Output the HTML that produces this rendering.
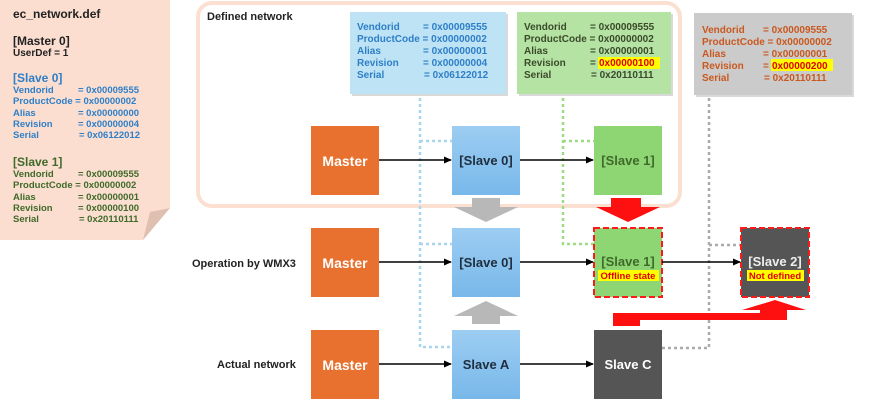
<!DOCTYPE html>
<html><head><meta charset="utf-8"><style>
body{margin:0;width:874px;height:404px;background:#fff;overflow:hidden;font-family:"Liberation Sans",sans-serif}
svg text{font-family:"Liberation Sans",sans-serif;font-weight:bold}
</style></head><body>
<svg width="874" height="404" viewBox="0 0 874 404" xmlns="http://www.w3.org/2000/svg">
<defs>
<marker id="ar" markerWidth="8" markerHeight="8" refX="7" refY="4" orient="auto" markerUnits="userSpaceOnUse"><path d="M0,0.5 L8,4 L0,7.5 z" fill="#000"/></marker>
<linearGradient id="bl" x1="0" y1="0" x2="0" y2="1"><stop offset="0" stop-color="#9dcdf2"/><stop offset="1" stop-color="#78b8ea"/></linearGradient>
</defs>
<path d="M0,0 H170 V208 L143,240 H0 Z" fill="#fbded0"/>
<path d="M143,240 L150,212 L170,208 Z" fill="#dfc0b0"/>
<text x="13" y="18" font-size="12" fill="#222">ec_network.def</text>
<g font-size="11">
<text x="13" y="45" fill="#222" font-size="12">[Master 0]</text>
<text x="13" y="56" fill="#222" font-size="10">UserDef = 1</text>
<text x="13" y="82" fill="#2e7fc8" font-size="12">[Slave 0]</text>
<g font-size="9.5" fill="#2e7fc8">
<text x="13" y="93">Vendorid</text><text x="78" y="93">= 0x00009555</text>
<text x="13" y="104">ProductCode = 0x00000002</text>
<text x="13" y="116">Alias</text><text x="78" y="116">= 0x00000000</text>
<text x="13" y="127">Revision</text><text x="78" y="127">= 0x00000004</text>
<text x="13" y="138">Serial</text><text x="79" y="138">= 0x06122012</text>
</g>
<text x="13" y="166" fill="#3f6a2a" font-size="12">[Slave 1]</text>
<g font-size="9.5" fill="#3f6a2a">
<text x="13" y="177">Vendorid</text><text x="78" y="177">= 0x00009555</text>
<text x="13" y="188">ProductCode = 0x00000002</text>
<text x="13" y="200">Alias</text><text x="78" y="200">= 0x00000001</text>
<text x="13" y="211">Revision</text><text x="78" y="211">= 0x00000100</text>
<text x="13" y="222">Serial</text><text x="79" y="222">= 0x20110111</text>
</g></g>
<rect x="198" y="3" width="482" height="203" rx="14" fill="none" stroke="#fbe0d2" stroke-width="4"/>
<text x="207" y="20" font-size="11" fill="#222">Defined network</text>
<rect x="352" y="14" width="156" height="82" fill="#000" opacity="0.15"/>
<rect x="350" y="12" width="156" height="82" fill="#bde3f5"/>
<g font-size="10" fill="#2e7fc8">
<text x="357" y="30">Vendorid</text><text x="423" y="30">= 0x00009555</text>
<text x="357" y="42">ProductCode = 0x00000002</text>
<text x="357" y="54">Alias</text><text x="423" y="54">= 0x00000001</text>
<text x="357" y="66">Revision</text><text x="423" y="66">= 0x00000004</text>
<text x="357" y="78">Serial</text><text x="424" y="78">= 0x06122012</text>
</g>
<rect x="519" y="14" width="154" height="82" fill="#000" opacity="0.15"/>
<rect x="517" y="12" width="154" height="82" fill="#b5e3a4"/>
<rect x="598" y="57" width="62" height="12" fill="#ffff00"/>
<g font-size="10" fill="#3a4a2a">
<text x="524" y="30">Vendorid</text><text x="590" y="30">= 0x00009555</text>
<text x="524" y="42">ProductCode = 0x00000002</text>
<text x="524" y="54">Alias</text><text x="590" y="54">= 0x00000001</text>
<text x="524" y="66">Revision</text><text x="590" y="66">=</text><text x="599" y="66" fill="#e00000">0x00000100</text>
<text x="524" y="78">Serial</text><text x="591" y="78">= 0x20110111</text>
</g>
<rect x="696" y="15" width="158" height="82" fill="#000" opacity="0.15"/>
<rect x="694" y="13" width="158" height="82" fill="#cbcbcb"/>
<rect x="771" y="59" width="62" height="12" fill="#ffff00"/>
<g font-size="10" fill="#c9581f">
<text x="702" y="33">Vendorid</text><text x="763" y="33">= 0x00009555</text>
<text x="702" y="45">ProductCode = 0x00000002</text>
<text x="702" y="57">Alias</text><text x="763" y="57">= 0x00000001</text>
<text x="702" y="69">Revision</text><text x="763" y="69">=</text><text x="772" y="69" fill="#e00000">0x00000200</text>
<text x="702" y="81">Serial</text><text x="764" y="81">= 0x20110111</text>
</g>
<g fill="none" stroke-width="2.5" stroke-dasharray="3,3">
<path d="M420,98 V347 H452 M420,141 H452 M420,244 H452" stroke="#a8d5f0"/>
<path d="M563,98 V244 H594 M563,141 H594" stroke="#9ddc83"/>
<path d="M709,98 V348 H662 M709,245 H741" stroke="#aaaaaa"/>
</g>
<text x="192" y="267" font-size="11" fill="#222">Operation by WMX3</text>
<text x="217" y="368" font-size="11" fill="#222">Actual network</text>
<g fill="#e8712f">
<rect x="311" y="126" width="68" height="69"/><rect x="311" y="228" width="68" height="69"/><rect x="311" y="330" width="68" height="69"/>
</g>
<g font-size="14" fill="#fff" text-anchor="middle">
<text x="345" y="166">Master</text><text x="345" y="268">Master</text><text x="345" y="370">Master</text>
</g>
<rect x="452" y="126" width="68" height="69" fill="url(#bl)"/>
<rect x="452" y="228" width="68" height="69" fill="url(#bl)"/>
<rect x="452" y="330" width="68" height="69" fill="url(#bl)"/>
<g font-size="13" fill="#1f2d3d" text-anchor="middle">
<text x="486" y="165">[Slave 0]</text><text x="486" y="267">[Slave 0]</text><text x="486" y="369">Slave A</text>
</g>
<rect x="594" y="126" width="68" height="69" fill="#8ed673"/>
<text x="628" y="165" font-size="13" fill="#3f6a2a" text-anchor="middle" font-weight="normal">[Slave 1]</text>
<rect x="594" y="228" width="68" height="69" fill="#8ed673" stroke="#ff1a1a" stroke-width="2" stroke-dasharray="6,3"/>
<text x="628" y="266" font-size="13" fill="#3f6a2a" text-anchor="middle" font-weight="normal">[Slave 1]</text>
<rect x="598" y="270" width="61" height="11" fill="#ffff00"/>
<text x="628" y="279" font-size="9.5" fill="#e00000" text-anchor="middle">Offline state</text>
<rect x="741" y="228" width="68" height="69" fill="#555" stroke="#ff1a1a" stroke-width="2" stroke-dasharray="6,3"/>
<text x="775" y="266" font-size="13" fill="#eee" text-anchor="middle" font-weight="normal">[Slave 2]</text>
<rect x="747" y="270" width="57" height="11" fill="#ffff00"/>
<text x="775" y="279" font-size="9.5" fill="#e00000" text-anchor="middle">Not defined</text>
<rect x="594" y="330" width="68" height="69" fill="#555"/>
<text x="628" y="369" font-size="13" fill="#fff" text-anchor="middle">Slave C</text>
<g stroke="#000" stroke-width="1.5" marker-end="url(#ar)">
<line x1="379" y1="160" x2="451" y2="160"/><line x1="520" y1="160" x2="593" y2="160"/>
<line x1="379" y1="262" x2="451" y2="262"/><line x1="520" y1="262" x2="593" y2="262"/>
<line x1="662" y1="262" x2="740" y2="262"/>
<line x1="379" y1="364" x2="451" y2="364"/><line x1="520" y1="364" x2="593" y2="364"/>
</g>
<path d="M472,198 H500 V207 H518 L486,222 L454,207 H472 Z" fill="#b8b8b8"/>
<path d="M472,324 H500 V316 H518 L486,301 L454,316 H472 Z" fill="#b8b8b8"/>
<path d="M611,198 H641 V207 H660 L628,222 L596,207 H611 Z" fill="#ff1010"/>
<path d="M613,326 V313 H760 V310 H742 L775,300 L806,310 H787 V320 H640 V326 Z" fill="#ff1010"/>
</svg>
</body></html>
